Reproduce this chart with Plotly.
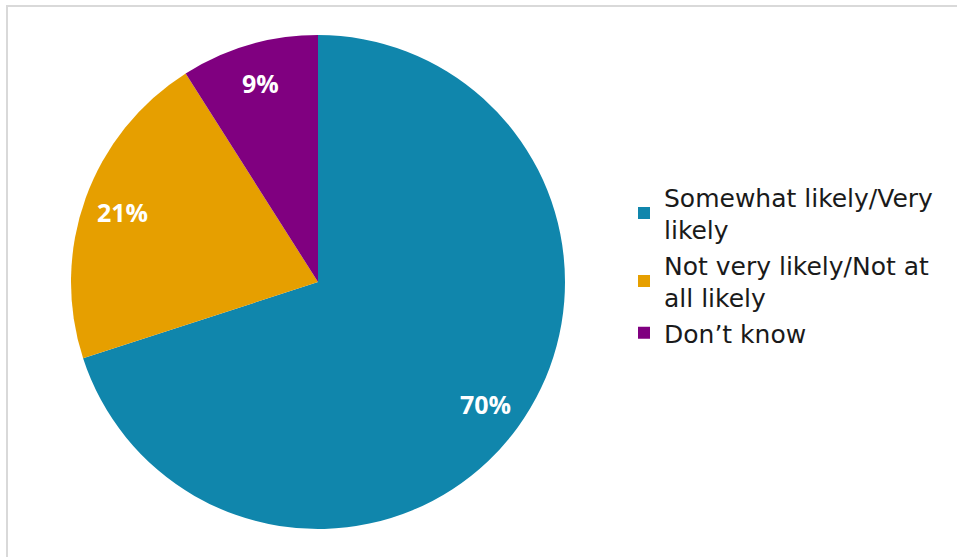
import math
import plotly.graph_objects as go

# Survey responses (share of respondents, %)
categories = ["Somewhat likely/Very<br>likely", "Not very likely/Not at<br>all likely", "Don’t know"]
shares = [70, 21, 9]
colors = ["#1086AC", "#E69F00", "#800080"]

W, H = 957, 557
# pie placement in pixels (centre measured from top-left) and radius
CX, CY, R = 318, 282, 247

fig = go.Figure(
    go.Pie(
        labels=categories,
        values=shares,
        sort=False,
        direction="clockwise",
        rotation=0,
        marker=dict(colors=colors, line=dict(width=0)),
        textinfo="none",
        hoverinfo="label+percent",
        domain=dict(
            x=[(CX - R) / W, (CX + R) / W],
            y=[(H - CY - R) / H, (H - CY + R) / H],
        ),
    )
)

# Percentage labels placed along each slice's bisector, near the rim
annotations = []
total = sum(shares)
cum = 0
for v in shares:
    mid = (cum + v / 2) / total * 2 * math.pi
    cum += v
    rr = 0.84 * R
    px = CX + rr * math.sin(mid)
    py = CY - rr * math.cos(mid)
    annotations.append(
        dict(
            x=px / W,
            y=1 - py / H,
            xref="paper",
            yref="paper",
            text=f"<b>{v}%</b>",
            showarrow=False,
            font=dict(family="Open Sans", size=25, color="white"),
            xanchor="center",
            yanchor="middle",
        )
    )

fig.update_layout(
    width=W,
    height=H,
    margin=dict(l=0, r=0, t=0, b=0),
    paper_bgcolor="white",
    plot_bgcolor="white",
    showlegend=True,
    legend=dict(
        x=624 / W,
        y=1 - 174 / H,
        xanchor="left",
        yanchor="top",
        font=dict(family="DejaVu Sans", size=25, color="#1a1a1a"),
        bgcolor="rgba(0,0,0,0)",
        traceorder="normal",
    ),
    annotations=annotations,
    shapes=[
        dict(
            type="rect",
            xref="paper",
            yref="paper",
            x0=7 / W,
            x1=1.2,
            y0=-0.2,
            y1=1 - 6 / H,
            line=dict(color="#D9D9D9", width=2),
            fillcolor="rgba(0,0,0,0)",
            layer="below",
        )
    ],
)

fig.write_html("out.html")
